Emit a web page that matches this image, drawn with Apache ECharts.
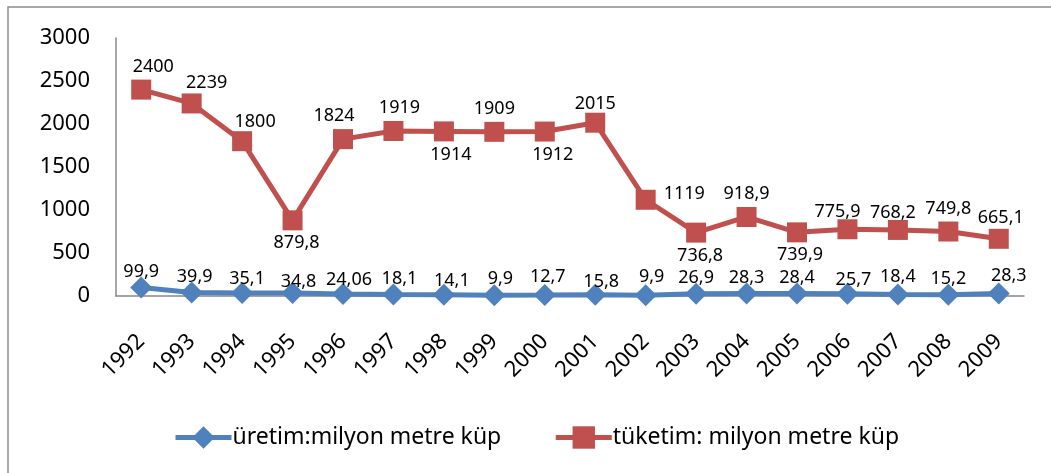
<!DOCTYPE html>
<html>
<head>
<meta charset="utf-8">
<script src="https://cdn.jsdelivr.net/npm/echarts@6/dist/echarts.min.js"></script>
<style>
  html, body { margin: 0; padding: 0; background: #fff; }
  #chart { width: 1051px; height: 473px; }
</style>
</head>
<body>
<div id="chart"></div>
<script>
var years = ['1992','1993','1994','1995','1996','1997','1998','1999','2000','2001','2002','2003','2004','2005','2006','2007','2008','2009'];
var uretim = [99.9, 39.9, 35.1, 34.8, 24.06, 18.1, 14.1, 9.9, 12.7, 15.8, 9.9, 26.9, 28.3, 28.4, 25.7, 18.4, 15.2, 28.3];
var tuketim = [2400, 2239, 1800, 879.8, 1824, 1919, 1914, 1909, 1912, 2015, 1119, 736.8, 918.9, 739.9, 775.9, 768.2, 749.8, 665.1];
var yTicks = [0, 500, 1000, 1500, 2000, 2500, 3000];

// label placement per point (style only)
var redPos = [
  ['top', 12, 0], ['top', 15, 2], ['top', 13, 4], ['bottom', 4, 0], ['top', -9, 0], ['top', 6, 0],
  ['bottom', 7, 0], ['top', 0, 0], ['bottom', 8, 0], ['top', 0, 4], ['right', 4, -6], ['bottom', 4, 0],
  ['top', 0, 0], ['bottom', 3, 0], ['top', -10, 6], ['top', -5, 6], ['top', 0, 0], ['top', 2, 2]
];
var bluePos = [
  [0, 8], [3, 8], [5, 10], [6, 13], [6, 10], [6, 8], [8, 10], [6, 8], [3, 6], [6, 11],
  [6, 6], [0, 8], [0, 8], [0, 8], [6, 10], [0, 6], [0, 8], [10, 6]
];

function fmt(v) { return String(v).replace('.', ','); }

var chart = echarts.init(document.getElementById('chart'));
var font = '"Noto Sans", "Open Sans", sans-serif';

var redData = tuketim.map(function (v, i) {
  var p = redPos[i];
  return { value: v, label: { position: p[0], offset: [p[1], p[2]] } };
});
var blueData = uretim.map(function (v, i) {
  var p = bluePos[i];
  return { value: v, label: { offset: [p[0], p[1]] } };
});

var option = {
  backgroundColor: '#fff',
  textStyle: { fontFamily: font },
  animation: false,
  graphic: [{
    type: 'rect',
    shape: { x: 8, y: 7, width: 1100, height: 500 },
    style: { fill: 'none', stroke: '#8c8c8c', lineWidth: 1.5 },
    silent: true,
    z: -1
  }],
  grid: { left: 116, right: 27, top: 38, bottom: 177 },
  legend: {
    bottom: 19,
    left: 168,
    itemWidth: 56,
    itemHeight: 28,
    itemGap: 52,
    lineStyle: { width: 5 },
    textStyle: { fontSize: 23, color: '#000', fontFamily: font, padding: [0, 0, 0, -4] },
    data: [
      { name: 'üretim:milyon metre küp', lineStyle: { width: 5 } },
      { name: 'tüketim: milyon metre küp', lineStyle: { width: 5 } }
    ]
  },
  xAxis: {
    type: 'category',
    data: years,
    axisLine: { lineStyle: { color: '#888', width: 1.5 } },
    axisTick: { show: false },
    axisLabel: { rotate: 45, margin: 42, fontSize: 22, color: '#000', fontFamily: font, interval: 0 }
  },
  yAxis: {
    type: 'value',
    min: 0,
    max: 3000,
    interval: 500,
    splitLine: { show: false },
    axisLine: { show: true, lineStyle: { color: '#888', width: 1.5 } },
    axisTick: { show: false },
    axisLabel: {
      margin: 26, fontSize: 22, color: '#000', fontFamily: font,
      formatter: function (v) { return yTicks.indexOf(v) >= 0 ? String(v) : ''; }
    }
  },
  series: [
    {
      name: 'üretim:milyon metre küp',
      type: 'line',
      data: blueData,
      symbol: 'diamond',
      symbolSize: 22,
      lineStyle: { color: '#4F81BD', width: 5 },
      itemStyle: { color: '#4F81BD' },
      label: { show: true, position: 'top', distance: 4, fontSize: 18, color: '#000', fontFamily: font, formatter: function (p) { return fmt(p.value); } },
      z: 3
    },
    {
      name: 'tüketim: milyon metre küp',
      type: 'line',
      data: redData,
      symbol: 'rect',
      symbolSize: 20,
      lineStyle: { color: '#C0504D', width: 5 },
      itemStyle: { color: '#C0504D' },
      label: { show: true, distance: 4, fontSize: 18, color: '#000', fontFamily: font, formatter: function (p) { return fmt(p.value); } },
      z: 2
    }
  ]
};
chart.setOption(option);
</script>
</body>
</html>
